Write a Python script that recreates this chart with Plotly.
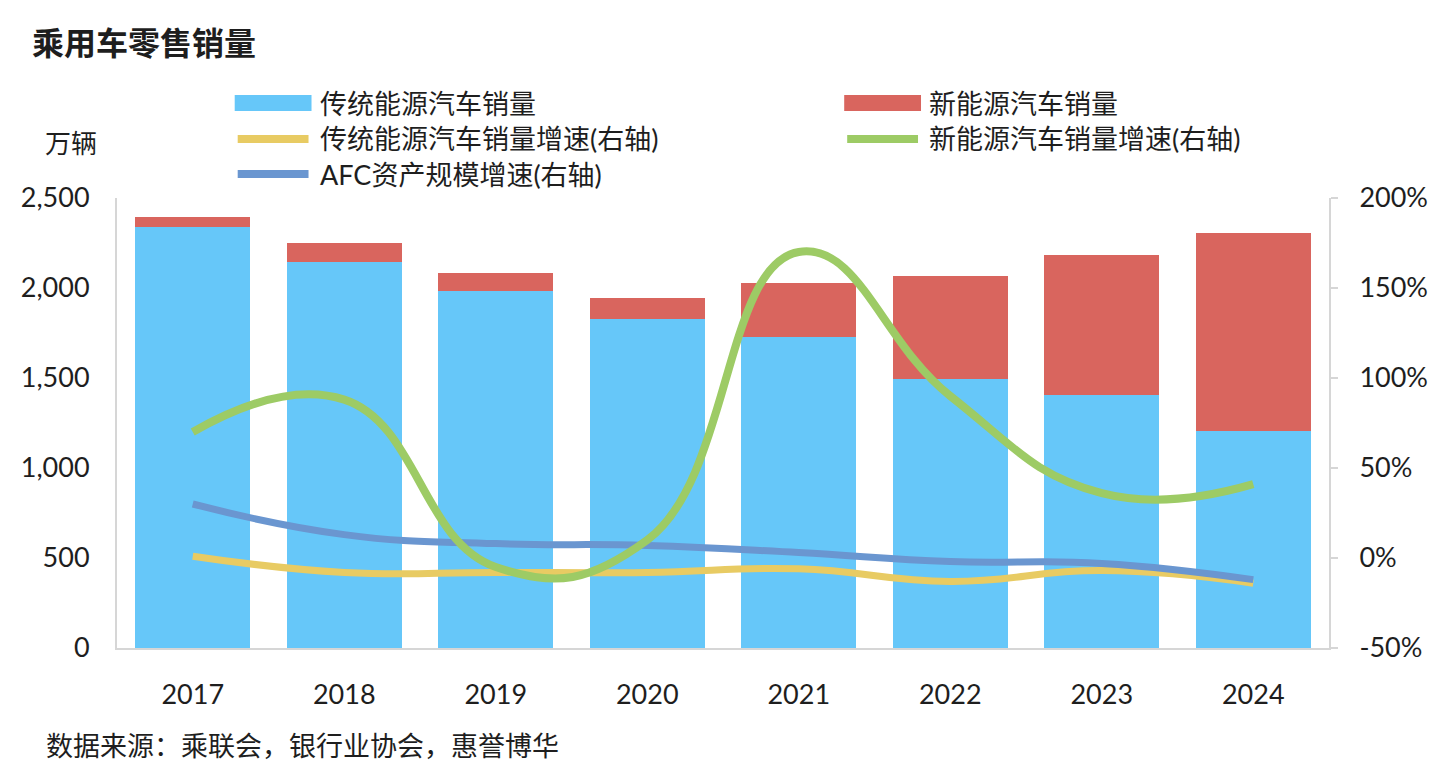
import plotly.graph_objects as go

# 数据
years = ["2017", "2018", "2019", "2020", "2021", "2022", "2023", "2024"]
ice_sales = [2341, 2144, 1981, 1829, 1728, 1495, 1404, 1203]      # 传统能源汽车销量（万辆）
nev_sales = [55, 105, 102, 113, 299, 573, 780, 1101]              # 新能源汽车销量（万辆）
ice_growth = [1, -8, -8, -8, -6, -13, -7, -14]                    # 传统能源汽车销量增速 %
nev_growth = [70, 88, -5, 10, 170, 90, 36, 41]                    # 新能源汽车销量增速 %
afc_growth = [30, 13, 8, 7, 3, -2, -3, -12]                       # AFC资产规模增速 %

left_ticks = [0, 500, 1000, 1500, 2000, 2500]
right_ticks = [-50, 0, 50, 100, 150, 200]
right_labels = ["-50%", "0%", "50%", "100%", "150%", "200%"]

C_ICE = "#66C7F9"
C_NEV = "#D9655E"
C_ICE_G = "#E8CB63"
C_NEV_G = "#9DCB65"
C_AFC = "#6A96D0"
AXIS = "#D6D6D6"
TXT = "#1E1E1E"
FONT = "Lato, 'Noto Sans CJK SC', sans-serif"

W, H = 1440, 768
L, R, T, B = 117, 108, 198, 120
PW, PH = W - L - R, H - T - B


def px(x, y):
    # 像素 -> paper 坐标
    return (x - L) / PW, (H - B - y) / PH


fig = go.Figure()
fig.add_trace(go.Bar(x=years, y=ice_sales, name="传统能源汽车销量",
                     marker=dict(color=C_ICE, line_width=0)))
fig.add_trace(go.Bar(x=years, y=nev_sales, name="新能源汽车销量",
                     marker=dict(color=C_NEV, line_width=0)))
for vals, name, col, lw in [
    (ice_growth, "传统能源汽车销量增速(右轴)", C_ICE_G, 7),
    (afc_growth, "AFC资产规模增速(右轴)", C_AFC, 7),
    (nev_growth, "新能源汽车销量增速(右轴)", C_NEV_G, 8),
]:
    fig.add_trace(go.Scatter(x=years, y=vals, name=name, yaxis="y2", mode="lines",
                             line=dict(color=col, width=lw, shape="spline", smoothing=1.3)))

# 手工图例
legend_items = [
    ("传统能源汽车销量", C_ICE, "bar", 235, 103),
    ("新能源汽车销量", C_NEV, "bar", 846, 103),
    ("传统能源汽车销量增速(右轴)", C_ICE_G, "line", 235, 139),
    ("新能源汽车销量增速(右轴)", C_NEV_G, "line", 846, 139),
    ("AFC资产规模增速(右轴)", C_AFC, "line", 235, 174),
]
shapes, annots = [], []
for name, col, kind, x0, yc in legend_items:
    if kind == "bar":
        a = px(x0, yc - 8)
        b = px(x0 + 77, yc + 8)
        shapes.append(dict(type="rect", xref="paper", yref="paper", x0=a[0], y0=a[1],
                           x1=b[0], y1=b[1], fillcolor=col, line_width=0))
    else:
        a = px(x0 + 3, yc)
        b = px(x0 + 74, yc)
        shapes.append(dict(type="line", xref="paper", yref="paper", x0=a[0], y0=a[1],
                           x1=b[0], y1=b[1], line=dict(color=col, width=8)))
    t = px(x0 + 83, yc)
    annots.append(dict(text=name, xref="paper", yref="paper", x=t[0], y=t[1],
                       xanchor="left", yanchor="middle", showarrow=False,
                       font=dict(size=27, color=TXT)))

t = px(30, 43)
annots.append(dict(text="<b>乘用车零售销量</b>", xref="paper", yref="paper", x=t[0], y=t[1],
                   xanchor="left", yanchor="middle", showarrow=False,
                   font=dict(size=32, color=TXT)))
t = px(71, 143)
annots.append(dict(text="万辆", xref="paper", yref="paper", x=t[0], y=t[1],
                   xanchor="center", yanchor="middle", showarrow=False,
                   font=dict(size=26, color=TXT)))
t = px(44, 745)
annots.append(dict(text="数据来源：乘联会，银行业协会，惠誉博华", xref="paper", yref="paper",
                   x=t[0], y=t[1], xanchor="left", yanchor="middle", showarrow=False,
                   font=dict(size=27, color=TXT)))

fig.update_layout(
    width=W, height=H,
    margin=dict(l=L, r=R, t=T, b=B),
    barmode="stack", bargap=0.24,
    showlegend=False,
    plot_bgcolor="white", paper_bgcolor="white",
    font=dict(family=FONT, size=27, color=TXT),
    shapes=shapes, annotations=annots,
    xaxis=dict(type="category", range=[-0.5, 7.5], showline=True, linecolor=AXIS,
               linewidth=2, ticks="", showgrid=False, ticklabelstandoff=22,
               tickfont=dict(size=27)),
    yaxis=dict(range=[0, 2500], tickvals=left_ticks, tickformat=",", showline=True,
               linecolor=AXIS, linewidth=2, ticks="", showgrid=False, zeroline=False,
               ticklabelstandoff=20, tickfont=dict(size=27)),
    yaxis2=dict(range=[-50, 200], tickvals=right_ticks, ticktext=right_labels,
                overlaying="y", side="right", showline=True, linecolor=AXIS, linewidth=2,
                ticks="outside", ticklen=7, tickcolor=AXIS, tickwidth=2, showgrid=False,
                zeroline=False, ticklabelstandoff=16, tickfont=dict(size=27)),
)

fig.write_html("out.html", config={"displayModeBar": False},
               post_script="document.body.style.margin='0';")
